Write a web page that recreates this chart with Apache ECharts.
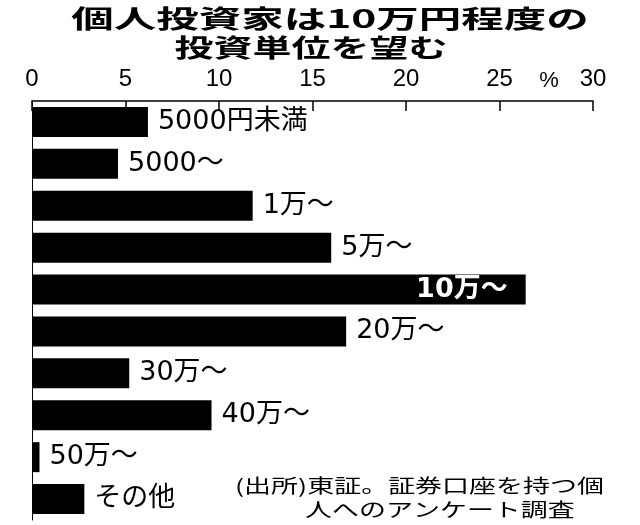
<!DOCTYPE html>
<html>
<head>
<meta charset="utf-8">
<script src="https://cdn.jsdelivr.net/npm/echarts@6/dist/echarts.min.js"></script>
<style>
html,body{margin:0;padding:0;background:#fff;}
#main{width:640px;height:525px;}
</style>
</head>
<body>
<div id="main"></div>
<script>
const titleLines = ["個人投資家は10万円程度の", "投資単位を望む"];
const categories = ["5000円未満", "5000〜", "1万〜", "5万〜", "10万〜", "20万〜", "30万〜", "40万〜", "50万〜", "その他"];
const values = [6.2, 4.6, 11.8, 16.0, 26.4, 16.8, 5.2, 9.6, 0.4, 2.8];
const highlightIndex = 4;
const axisMin = 0, axisMax = 30, axisStep = 5;
const unitLabel = "%";
const sourceLines = ["(出所)東証。証券口座を持つ個", "人へのアンケート調査"];

const CJK = '"Noto Sans CJK JP"';
const labelFont = '"DejaVu Sans", ' + CJK;

const chart = echarts.init(document.getElementById('main'), null, {renderer: 'canvas'});

const data = values.map((v, i) => {
  const item = {value: v};
  if (i === highlightIndex) {
    item.label = {
      position: 'insideRight',
      distance: 18,
      color: '#fff',
      fontWeight: 'bold'
    };
  }
  return item;
});

const option = {
  backgroundColor: '#fff',
  animation: false,
  grid: {left: 32, right: 47, top: 101, bottom: 5, containLabel: false},
  xAxis: {
    type: 'value',
    position: 'top',
    min: axisMin, max: axisMax, interval: axisStep,
    axisLine: {show: true, lineStyle: {color: '#000', width: 1.5}},
    axisTick: {show: true, inside: true, length: 10, lineStyle: {color: '#000', width: 1.5}},
    splitLine: {show: false},
    axisLabel: {
      color: '#000', fontSize: 24, fontFamily: '"Liberation Sans", Arial, sans-serif',
      margin: 10,
      formatter: v => String(v)
    }
  },
  yAxis: {
    type: 'category',
    data: categories,
    inverse: true,
    axisLine: {show: true, lineStyle: {color: '#000', width: 1}},
    axisTick: {show: false},
    axisLabel: {show: false},
    splitLine: {show: false}
  },
  series: [{
    type: 'bar',
    data: data,
    barWidth: 30,
    itemStyle: {color: '#000'},
    label: {
      show: true,
      position: 'right',
      distance: 10,
      color: '#000',
      fontSize: 27,
      fontFamily: labelFont,
      formatter: p => categories[p.dataIndex]
    }
  }],
  graphic: [
    {type: 'text', x: 330, y: 18, scaleX: 1.7, style: {text: titleLines[0], fill: '#000', fontSize: 25, fontWeight: 'bold', fontFamily: CJK, textAlign: 'center', textVerticalAlign: 'middle'}},
    {type: 'text', x: 311, y: 47, scaleX: 1.56, style: {text: titleLines[1], fill: '#000', fontSize: 25, fontWeight: 'bold', fontFamily: CJK, textAlign: 'center', textVerticalAlign: 'middle'}},
    {type: 'text', x: 549, y: 81, style: {text: unitLabel, fill: '#000', fontSize: 22, fontFamily: '"Liberation Sans", Arial, sans-serif', textAlign: 'center', textVerticalAlign: 'middle'}},
    {type: 'text', x: 235, y: 486, scaleX: 1.42, style: {text: sourceLines[0], fill: '#000', fontSize: 19, fontFamily: CJK, textAlign: 'left', textVerticalAlign: 'middle'}},
    {type: 'text', x: 305, y: 510, scaleX: 1.42, style: {text: sourceLines[1], fill: '#000', fontSize: 19, fontFamily: CJK, textAlign: 'left', textVerticalAlign: 'middle'}}
  ]
};
chart.setOption(option);
</script>
</body>
</html>
